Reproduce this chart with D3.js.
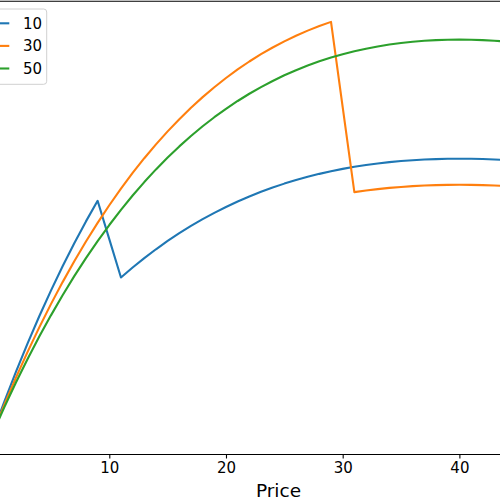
<!DOCTYPE html>
<html>
<head>
<meta charset="utf-8">
<script src="https://cdn.jsdelivr.net/npm/d3@7"></script>
<style>
  body { margin: 0; background: #fff; }
  svg { display: block; font-family: "DejaVu Sans", sans-serif; }
</style>
</head>
<body>
<svg width="500" height="500"></svg>
<script>
// 価格 (x軸)
var prices = [0,1,2,3,4,5,6,7,8,9,10,11,12,13,14,15,16,17,18,19,20,21,22,23,24,
  25,26,27,28,29,30,31,32,33,34,35,36,37,38,39,40,41,42,43,44,45,46,47,48,49];

var seriesNames = ["10", "30", "50"];
var xTicks = [10, 20, 30, 40];

// 売上の推移
var rev10 = [0,80.2,156.4,228.8,297.5,362.7,424.5,483.0,538.4,590.7,493.4,396.0,421.4,445.2,467.6,
  488.7,508.4,526.8,544.0,560.1,575.0,588.8,601.6,613.5,624.3,634.3,643.4,651.6,659.1,665.7,
  671.7,677.0,681.5,685.5,688.8,691.6,693.8,695.4,696.6,697.3,697.5,697.3,696.7,695.6,694.2,
  692.5,690.4,688.0,685.3,682.3];
var rev30 = [0,72.6,141.5,207.1,269.3,328.3,384.2,437.2,487.3,534.7,579.4,621.6,661.4,698.8,734.0,
  767.0,797.9,826.9,853.9,879.1,902.5,924.3,944.4,962.9,979.9,995.6,1009.9,1022.8,1034.5,1045.0,
  828.8,612.7,616.8,620.4,623.4,625.9,627.9,629.4,630.5,631.1,631.3,631.1,630.5,629.6,628.3,
  626.7,624.9,622.7,620.2,617.5];
var rev50 = [0,66.3,129.3,189.1,245.9,299.8,350.9,399.3,445.1,488.3,529.2,567.7,604.1,638.2,670.4,
  700.5,728.8,755.2,779.9,802.9,824.3,844.1,862.5,879.4,895.0,909.3,922.3,934.1,944.8,954.4,
  962.9,970.4,977.0,982.7,987.5,991.4,994.6,996.9,998.6,999.6,999.9,999.6,998.7,997.2,995.2,
  992.7,989.7,986.3,982.4,978.1];

var colors = ["#1f77b4", "#ff7f0e", "#2ca02c"];

var svg = d3.select("svg");

// 軸の領域（元の図は切り取られているので左右は画面外）
var plotLeft = -36.0, plotRight = 593.0, plotTop = 1.3, plotBottom = 454;

var xmin = d3.min(prices), xmax = d3.max(prices);
var xpad = (xmax - xmin) * 0.05;
var x = d3.scaleLinear()
    .domain([xmin - xpad, xmax + xpad])
    .range([plotLeft, plotRight]);

var allVals = rev10.concat(rev30, rev50);
var ymin = d3.min(allVals), ymax = d3.max(allVals);
var ypad = (ymax - ymin) * 0.05;
var y = d3.scaleLinear()
    .domain([ymin - ypad, ymax + ypad])
    .range([plotBottom, plotTop]);

// 折れ線
var line = d3.line()
    .x(function(d, i) { return x(prices[i]); })
    .y(function(d) { return y(d); });

var g = svg.append("g");
[rev10, rev30, rev50].forEach(function(s, i) {
  g.append("path")
    .datum(s)
    .attr("fill", "none")
    .attr("stroke", colors[i])
    .attr("stroke-width", 2.1)
    .attr("stroke-linejoin", "round")
    .attr("d", line);
});

// 上の枠線
svg.append("line")
  .attr("x1", plotLeft).attr("x2", plotRight)
  .attr("y1", plotTop).attr("y2", plotTop)
  .attr("stroke", "#000").attr("stroke-width", 1.1);

// x軸
var xAxis = svg.append("g")
  .attr("transform", "translate(0," + plotBottom + ")")
  .call(d3.axisBottom(x).tickValues(xTicks).tickSize(4.5).tickPadding(4));
xAxis.select(".domain").attr("stroke", "#000").attr("stroke-width", 1.1);
xAxis.selectAll(".tick line").attr("stroke", "#000").attr("stroke-width", 1.1);
xAxis.selectAll(".tick text")
  .attr("font-family", "DejaVu Sans")
  .attr("font-size", 15)
  .attr("fill", "#000");

svg.append("text")
  .attr("x", (plotLeft + plotRight) / 2)
  .attr("y", 497)
  .attr("text-anchor", "middle")
  .attr("font-size", 18.5)
  .attr("fill", "#000")
  .text("Price");

// 凡例
var legend = svg.append("g");
legend.append("rect")
  .attr("x", -30).attr("y", 9)
  .attr("width", 76.7).attr("height", 75.3)
  .attr("rx", 3)
  .attr("fill", "#fff").attr("fill-opacity", 0.8)
  .attr("stroke", "#d0d0d0").attr("stroke-width", 1);

seriesNames.forEach(function(name, i) {
  var ly = 23.3 + i * 22.6;
  legend.append("line")
    .attr("x1", -20).attr("x2", 9.3)
    .attr("y1", ly).attr("y2", ly)
    .attr("stroke", colors[i]).attr("stroke-width", 2.1);
  legend.append("text")
    .attr("x", 23)
    .attr("y", ly + 5.4)
    .attr("font-size", 15)
    .attr("fill", "#000")
    .text(name);
});
</script>
</body>
</html>
